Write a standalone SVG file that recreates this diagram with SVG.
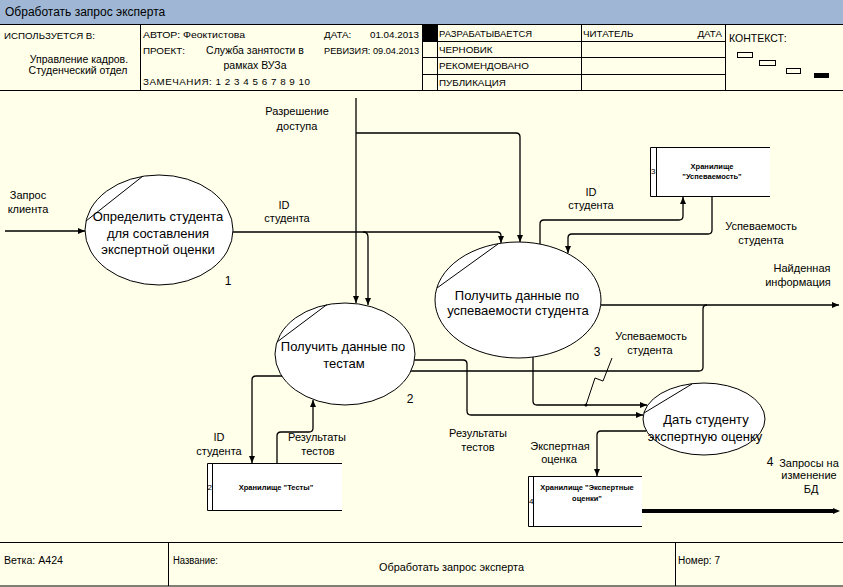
<svg xmlns="http://www.w3.org/2000/svg" width="843" height="587" viewBox="0 0 843 587">
<style>
text{font-family:"Liberation Sans",Arial,sans-serif;fill:#000}
.hd{font-size:9.8px}
.hm{font-size:10.5px}
.lb{font-size:11px;text-anchor:middle}
.pt{font-size:13px;text-anchor:middle}
.num{font-size:12px;text-anchor:middle}
.st{font-size:7.5px;font-weight:bold;text-anchor:middle}
.sn{font-size:8px}
.ln{stroke:#000;stroke-width:1;fill:none}
.cn{stroke:#000;stroke-width:1.3;fill:none}
.el{fill:#fff;stroke:#000;stroke-width:1}
.sf{fill:#fff;stroke:none}
</style>
<defs>
<marker id="a" viewBox="0 0 7 6" refX="7" refY="3" markerWidth="7" markerHeight="6" orient="auto" markerUnits="userSpaceOnUse"><path d="M0,0 L7,3 L0,6 z" fill="#000"/></marker>
</defs>
<rect x="0" y="0" width="843" height="587" fill="#ffffea"/>
<g id="title">
<rect x="0" y="0" width="843" height="24" fill="#9fb7d4"/>
<line x1="0" y1="24.5" x2="843" y2="24.5" class="ln"/>
<text x="5" y="16" font-size="12">Обработать запрос эксперта</text>
</g>
<g id="header">
<line x1="0" y1="90.5" x2="843" y2="90.5" class="ln"/>
<line x1="140.5" y1="25" x2="140.5" y2="90" class="ln"/>
<line x1="422.5" y1="25" x2="422.5" y2="90" class="ln"/>
<line x1="437.5" y1="25" x2="437.5" y2="90" class="ln"/>
<line x1="581.5" y1="25" x2="581.5" y2="90" class="ln"/>
<line x1="725.5" y1="25" x2="725.5" y2="90" class="ln"/>
<line x1="422" y1="41.5" x2="725" y2="41.5" class="ln"/>
<line x1="422" y1="57.5" x2="725" y2="57.5" class="ln"/>
<line x1="422" y1="74.5" x2="725" y2="74.5" class="ln"/>
<rect x="423" y="25" width="14" height="16" fill="#000"/>
<text x="4" y="39" class="hd" textLength="91" lengthAdjust="spacingAndGlyphs">ИСПОЛЬЗУЕТСЯ В:</text>
<text x="79" y="63" class="hm" text-anchor="middle">Управление кадров.</text>
<text x="78" y="74" class="hm" text-anchor="middle">Студенческий отдел</text>
<text x="143" y="38" class="hd" textLength="102" lengthAdjust="spacingAndGlyphs">АВТОР: Феоктистова</text>
<text x="143" y="54" class="hd">ПРОЕКТ:</text>
<text x="255" y="54" class="hm" text-anchor="middle">Служба занятости в</text>
<text x="255" y="69" class="hm" text-anchor="middle">рамках ВУЗа</text>
<text x="143" y="85" class="hd" textLength="167" lengthAdjust="spacing">ЗАМЕЧАНИЯ:  1 2 3 4 5 6 7 8 9 10</text>
<text x="324" y="38" class="hd">ДАТА:</text>
<text x="419" y="38" class="hd" text-anchor="end">01.04.2013</text>
<text x="324" y="54" class="hd" textLength="95" lengthAdjust="spacingAndGlyphs">РЕВИЗИЯ: 09.04.2013</text>
<text x="439" y="37" class="hd" textLength="93" lengthAdjust="spacingAndGlyphs">РАЗРАБАТЫВАЕТСЯ</text>
<text x="439" y="53" class="hd">ЧЕРНОВИК</text>
<text x="439" y="69" class="hd">РЕКОМЕНДОВАНО</text>
<text x="439" y="86" class="hd">ПУБЛИКАЦИЯ</text>
<text x="583" y="37" class="hd">ЧИТАТЕЛЬ</text>
<text x="722" y="37" class="hd" text-anchor="end">ДАТА</text>
<text x="729" y="42" font-size="10.5">КОНТЕКСТ:</text>
<rect x="737.5" y="52.5" width="15" height="5" class="ln"/>
<rect x="759.5" y="60.5" width="16" height="5" class="ln"/>
<rect x="786.5" y="68.5" width="14" height="5" class="ln"/>
<rect x="814" y="73" width="15" height="5" fill="#000"/>
</g>
<g id="footer">
<line x1="0" y1="542.5" x2="843" y2="542.5" class="ln"/>
<line x1="0" y1="586" x2="843" y2="586" class="ln"/>
<line x1="168.5" y1="542" x2="168.5" y2="586" class="ln"/>
<line x1="675.5" y1="542" x2="675.5" y2="586" class="ln"/>
<text x="4" y="564" font-size="10" textLength="59" lengthAdjust="spacingAndGlyphs">Ветка:  A424</text>
<text x="173" y="564" font-size="10" textLength="45" lengthAdjust="spacingAndGlyphs">Название:</text>
<text x="379" y="571" font-size="11" textLength="145" lengthAdjust="spacingAndGlyphs">Обработать запрос эксперта</text>
<text x="678" y="564" font-size="10" textLength="42" lengthAdjust="spacingAndGlyphs">Номер: 7</text>
</g>
<g id="connectors">
<path class="cn" d="M5,231 H85" marker-end="url(#a)"/>
<path class="cn" d="M233,232 H497 Q501,232 501,236 V243" marker-end="url(#a)"/>
<path class="cn" d="M363,232 Q368,232 368,237 V305" marker-end="url(#a)"/>
<path class="cn" d="M356,98 V303" marker-end="url(#a)"/>
<path class="cn" d="M356,133 H516 Q520,133 520,137 V242" marker-end="url(#a)"/>
<path class="cn" d="M540,244 V224 Q540,220 544,220 H679 Q683,220 683,216 V197" marker-end="url(#a)"/>
<path class="cn" d="M712,196 V230 Q712,234 708,234 H572 Q568,234 568,238 V253" marker-end="url(#a)"/>
<path class="cn" d="M601,305 H839" marker-end="url(#a)"/>
<path class="cn" d="M411,371 H699 Q703,371 703,367 V309 Q703,305 707,305"/>
<path class="cn" d="M533,357 V401 Q533,405 537,405 H647" marker-end="url(#a)"/>
<path class="cn" d="M414,360 H463 Q467,360 467,364 V411 Q467,415 471,415 H643" marker-end="url(#a)"/>
<path class="cn" d="M282,376 H256 Q252,376 252,380 V463" marker-end="url(#a)"/>
<path class="cn" d="M277,463 V436 Q277,432 281,432 H309 Q313,432 313,428 V400" marker-end="url(#a)"/>
<path class="cn" d="M646,431 H601 Q597,431 597,435 V476" marker-end="url(#a)"/>
<path d="M642,511 H834" stroke="#000" stroke-width="4" fill="none"/>
<path d="M833,508 L840,511 L833,514 z" fill="#000"/>
<path class="ln" d="M586,405 L595,378 L603,381 L612,358"/>
<circle cx="586" cy="405" r="1.6" fill="#000"/>
<text x="28" y="199" class="lb">Запрос</text>
<text x="28" y="213" class="lb">клиента</text>
<text x="297" y="115" class="lb">Разрешение</text>
<text x="297" y="130" class="lb">доступа</text>
<text x="284" y="209" class="lb">ID</text>
<text x="287" y="222" class="lb">студента</text>
<text x="591" y="196" class="lb">ID</text>
<text x="591" y="209" class="lb">студента</text>
<text x="761" y="230" class="lb">Успеваемость</text>
<text x="761" y="244" class="lb">студента</text>
<text x="802" y="272" class="lb">Найденная</text>
<text x="798" y="286" class="lb">информация</text>
<text x="651" y="340" class="lb">Успеваемость</text>
<text x="650" y="354" class="lb">студента</text>
<text x="478" y="437" class="lb">Результаты</text>
<text x="478" y="451" class="lb">тестов</text>
<text x="219" y="441" class="lb">ID</text>
<text x="219" y="455" class="lb">студента</text>
<text x="317" y="441" class="lb">Результаты</text>
<text x="318" y="455" class="lb">тестов</text>
<text x="560" y="450" class="lb">Экспертная</text>
<text x="559" y="463" class="lb">оценка</text>
<text x="809" y="467" class="lb">Запросы на</text>
<text x="809" y="479" class="lb">изменение</text>
<text x="811" y="493" class="lb">БД</text>
</g>
<g id="p1">
<ellipse class="el" cx="159" cy="230" rx="74" ry="55"/>
<line class="ln" x1="143" y1="176" x2="86" y2="221"/>
<text x="158" y="221" class="pt">Определить студента</text>
<text x="158" y="237.5" class="pt">для составления</text>
<text x="158" y="253.5" class="pt">экспертной оценки</text>
<text x="228" y="285" class="num">1</text>
</g>
<g id="p2">
<ellipse class="el" cx="345" cy="354" rx="70" ry="51"/>
<line class="ln" x1="327" y1="304.5" x2="277" y2="342"/>
<text x="343" y="351" class="pt">Получить данные по</text>
<text x="344" y="368" class="pt">тестам</text>
<text x="410" y="403" class="num">2</text>
</g>
<g id="p3">
<ellipse class="el" cx="518" cy="300" rx="83" ry="58"/>
<line class="ln" x1="498" y1="244" x2="437" y2="288"/>
<text x="517" y="299.5" class="pt">Получить данные по</text>
<text x="518" y="315" class="pt">успеваемости студента</text>
<text x="597" y="356" class="num">3</text>
</g>
<g id="p4">
<ellipse class="el" cx="704" cy="419" rx="61" ry="36"/>
<line class="ln" x1="692" y1="384" x2="644" y2="413"/>
<text x="706" y="424" class="pt">Дать студенту</text>
<text x="705" y="441" class="pt">экспертную оценку</text>
<text x="770" y="466" class="num">4</text>
</g>
<g id="s3">
<rect class="sf" x="650" y="147" width="120" height="49"/>
<path class="ln" d="M770,147.5 H650.5 V196.5 H770 M656.5,147 V196"/>
<text x="651" y="174" class="sn">3</text>
<text x="712" y="169" class="st">Хранилище</text>
<text x="712" y="179" class="st">"Успеваемость"</text>
</g>
<g id="s2">
<rect class="sf" x="207" y="463" width="135" height="47"/>
<path class="ln" d="M342,463.5 H207.5 V510.5 H342 M212.5,463 V510"/>
<text x="207.5" y="490" class="sn">2</text>
<text x="276" y="490" class="st">Хранилище "Тесты"</text>
</g>
<g id="s4">
<rect class="sf" x="528" y="476" width="114" height="50"/>
<path class="ln" d="M642,476.5 H528.5 V526.5 H642 M533.5,476 V526"/>
<text x="529" y="504" class="sn">4</text>
<text x="587" y="490" class="st">Хранилище "Экспертные</text>
<text x="587" y="501" class="st">оценки"</text>
</g>
</svg>
